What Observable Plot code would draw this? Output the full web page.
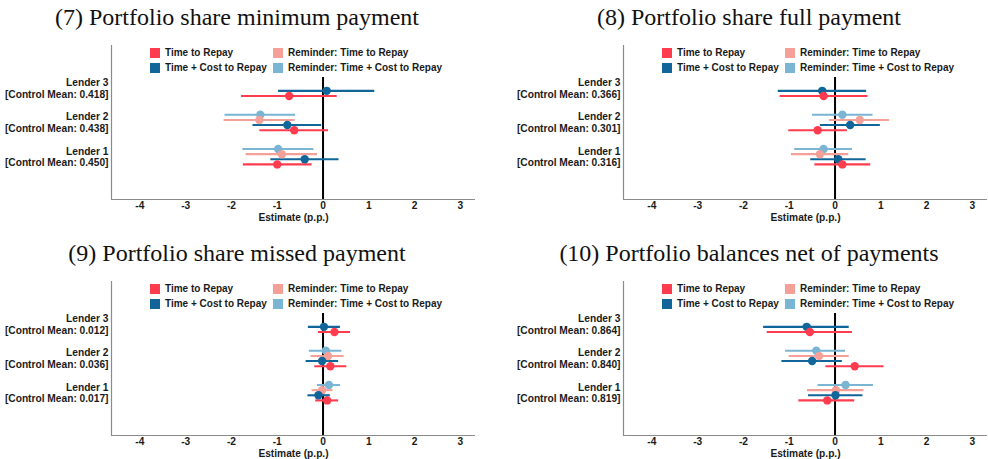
<!DOCTYPE html>
<html>
<head>
<meta charset="utf-8">
<script src="https://cdn.jsdelivr.net/npm/d3@7"></script>
<script src="https://cdn.jsdelivr.net/npm/@observablehq/plot@0.6"></script>
<style>
  html, body { margin: 0; padding: 0; background: white; }
  #root { position: relative; width: 988px; height: 459px; overflow: hidden; background: white; }
  .panel { position: absolute; width: 480px; height: 232px; }
  .title { position: absolute; left: 0; top: 5px; width: 474px; text-align: center;
           font-family: "Liberation Serif", "DejaVu Serif", serif; font-size: 24px; line-height: 24px; color: #111; white-space: nowrap; }
  .plot { position: absolute; left: 0; top: 30px; }
  .legend-bg { position: absolute; left: 140px; top: 42px; width: 310px; height: 35px; background: white; }
  .sw { position: absolute; width: 10px; height: 10px; }
  .lt { position: absolute; font-family: "Liberation Sans", Arial, sans-serif; font-weight: bold; font-size: 10px;
        line-height: 12px; color: #1a1a1a; white-space: nowrap; }
</style>
</head>
<body>
<div id="root"></div>
<script>
// ---------- data ----------
const series = ["Time to Repay", "Time + Cost to Repay", "Reminder: Time to Repay", "Reminder: Time + Cost to Repay"];
const seriesColors = ["#FF3B4E", "#10669A", "#F4A099", "#7AB5D3"];
const lenders = [1, 2, 3];
const xTicks = [-4, -3, -2, -1, 0, 1, 2, 3];
const titles = ["(7) Portfolio share minimum payment", "(8) Portfolio share full payment",
                "(9) Portfolio share missed payment", "(10) Portfolio balances net of payments"];

// Panel 7: values per lender [Lender 1, Lender 2, Lender 3]
const p7Mean = [0.450, 0.438, 0.418];
const p7TimeEst = [-1.00, -0.63, -0.74], p7TimeLo = [-1.74, -1.38, -1.78], p7TimeHi = [-0.24, 0.12, 0.31];
const p7CostEst = [-0.40, -0.78, 0.08], p7CostLo = [-1.14, -1.53, -0.97], p7CostHi = [0.35, -0.03, 1.13];
const p7RemTimeEst = [-0.90, -1.39, null], p7RemTimeLo = [-1.68, -2.16, null], p7RemTimeHi = [-0.12, -0.61, null];
const p7RemCostEst = [-0.98, -1.37, null], p7RemCostLo = [-1.75, -2.14, null], p7RemCostHi = [-0.20, -0.60, null];

// Panel 8
const p8Mean = [0.316, 0.301, 0.366];
const p8TimeEst = [0.16, -0.38, -0.25], p8TimeLo = [-0.44, -1.01, -1.20], p8TimeHi = [0.78, 0.27, 0.72];
const p8CostEst = [0.07, 0.33, -0.28], p8CostLo = [-0.53, -0.32, -1.24], p8CostHi = [0.68, 0.99, 0.69];
const p8RemTimeEst = [-0.33, 0.54, null], p8RemTimeLo = [-0.95, -0.12, null], p8RemTimeHi = [0.30, 1.19, null];
const p8RemCostEst = [-0.25, 0.16, null], p8RemCostLo = [-0.88, -0.49, null], p8RemCostHi = [0.38, 0.83, null];

// Panel 9
const p9Mean = [0.017, 0.036, 0.012];
const p9TimeEst = [0.09, 0.16, 0.25], p9TimeLo = [-0.16, -0.18, -0.10], p9TimeHi = [0.34, 0.52, 0.60];
const p9CostEst = [-0.10, -0.02, 0.02], p9CostLo = [-0.33, -0.37, -0.32], p9CostHi = [0.16, 0.34, 0.38];
const p9RemTimeEst = [-0.02, 0.11, null], p9RemTimeLo = [-0.24, -0.26, null], p9RemTimeHi = [0.22, 0.46, null];
const p9RemCostEst = [0.13, 0.06, null], p9RemCostLo = [-0.12, -0.30, null], p9RemCostHi = [0.38, 0.41, null];

// Panel 10
const p10Mean = [0.819, 0.840, 0.864];
const p10TimeEst = [-0.17, 0.43, -0.55], p10TimeLo = [-0.79, -0.20, -1.48], p10TimeHi = [0.43, 1.07, 0.38];
const p10CostEst = [0.01, -0.50, -0.62], p10CostLo = [-0.58, -1.16, -1.56], p10CostHi = [0.61, 0.16, 0.31];
const p10RemTimeEst = [0.02, -0.35, null], p10RemTimeLo = [-0.60, -1.00, null], p10RemTimeHi = [0.63, 0.31, null];
const p10RemCostEst = [0.23, -0.41, null], p10RemCostLo = [-0.37, -1.08, null], p10RemCostHi = [0.84, 0.23, null];

// ---------- build ----------
const panels = [
  {mean: p7Mean, est: [p7TimeEst, p7CostEst, p7RemTimeEst, p7RemCostEst], lo: [p7TimeLo, p7CostLo, p7RemTimeLo, p7RemCostLo], hi: [p7TimeHi, p7CostHi, p7RemTimeHi, p7RemCostHi]},
  {mean: p8Mean, est: [p8TimeEst, p8CostEst, p8RemTimeEst, p8RemCostEst], lo: [p8TimeLo, p8CostLo, p8RemTimeLo, p8RemCostLo], hi: [p8TimeHi, p8CostHi, p8RemTimeHi, p8RemCostHi]},
  {mean: p9Mean, est: [p9TimeEst, p9CostEst, p9RemTimeEst, p9RemCostEst], lo: [p9TimeLo, p9CostLo, p9RemTimeLo, p9RemCostLo], hi: [p9TimeHi, p9CostHi, p9RemTimeHi, p9RemCostHi]},
  {mean: p10Mean, est: [p10TimeEst, p10CostEst, p10RemTimeEst, p10RemCostEst], lo: [p10TimeLo, p10CostLo, p10RemTimeLo, p10RemCostLo], hi: [p10TimeHi, p10CostHi, p10RemTimeHi, p10RemCostHi]}
];
const dodge = [-0.225, -0.075, 0.075, 0.225];
const xDomain = [-4.62, 3.33];
const yDomain = [-0.25, 4.25];
const positions = [[0, 0], [512, 0], [0, 236], [512, 236]];

const root = document.getElementById("root");

panels.forEach((p, k) => {
  const rows = [];
  series.forEach((s, si) => {
    lenders.forEach((l, li) => {
      if (p.est[si][li] == null) return;
      rows.push({series: s, y: l + dodge[si], est: p.est[si][li], lo: p.lo[si][li], hi: p.hi[si][li]});
    });
  });
  rows.sort((a, b) => series.indexOf(b.series) - series.indexOf(a.series));

  const div = document.createElement("div");
  div.className = "panel";
  div.style.left = positions[k][0] + "px";
  div.style.top = positions[k][1] + "px";

  const t = document.createElement("div");
  t.className = "title";
  t.textContent = titles[k];
  div.appendChild(t);

  const chart = Plot.plot({
    width: 480, height: 200,
    marginLeft: 111, marginRight: 5, marginTop: 15, marginBottom: 31,
    x: {domain: xDomain},
    y: {domain: yDomain},
    color: {domain: series, range: seriesColors},
    style: {fontFamily: '"Liberation Sans", Arial, sans-serif', fontSize: "10.2px", fontWeight: "bold", color: "#1a1a1a", background: "white", overflow: "visible"},
    marks: [
      Plot.ruleX([xDomain[0]], {y1: yDomain[0], y2: yDomain[1], stroke: "#8a8a8a", strokeWidth: 1.2}),
      Plot.ruleY([yDomain[0]], {x1: xDomain[0], x2: xDomain[1], stroke: "#8a8a8a", strokeWidth: 1.2}),
      Plot.ruleX([0], {y1: yDomain[0], y2: yDomain[1], stroke: "#000", strokeWidth: 2}),
      Plot.ruleY(rows, {y: "y", x1: "lo", x2: "hi", stroke: "series", strokeWidth: 2.1}),
      Plot.dot(rows, {x: "est", y: "y", fill: "series", r: 4.2}),
      Plot.axisX({ticks: xTicks, tickSize: 0, tickPadding: 2, tickFormat: d => String(d), label: null}),
      Plot.axisY({ticks: lenders, tickSize: 0, tickPadding: 3, lineHeight: 1.12,
                  tickFormat: i => `Lender ${i}\n[Control Mean: ${p.mean[i - 1].toFixed(3)}]`, label: null}),
      Plot.text(["Estimate (p.p.)"], {frameAnchor: "bottom", dy: 18, lineAnchor: "middle"})
    ]
  });
  chart.classList.add("plot");
  chart.style.position = "absolute";
  chart.style.left = "0px";
  chart.style.top = "30px";
  div.appendChild(chart);

  const bg = document.createElement("div");
  bg.className = "legend-bg";
  div.appendChild(bg);
  const legendCells = [
    {s: 0, x: 150, y: 53}, {s: 2, x: 273, y: 53},
    {s: 1, x: 150, y: 67.5}, {s: 3, x: 273, y: 67.5}
  ];
  legendCells.forEach(c => {
    const sw = document.createElement("div");
    sw.className = "sw";
    sw.style.left = c.x + "px";
    sw.style.top = (c.y - 5) + "px";
    sw.style.background = seriesColors[c.s];
    div.appendChild(sw);
    const lt = document.createElement("div");
    lt.className = "lt";
    lt.style.left = (c.x + 15) + "px";
    lt.style.top = (c.y - 6) + "px";
    lt.textContent = series[c.s];
    div.appendChild(lt);
  });

  root.appendChild(div);
});
</script>
</body>
</html>
